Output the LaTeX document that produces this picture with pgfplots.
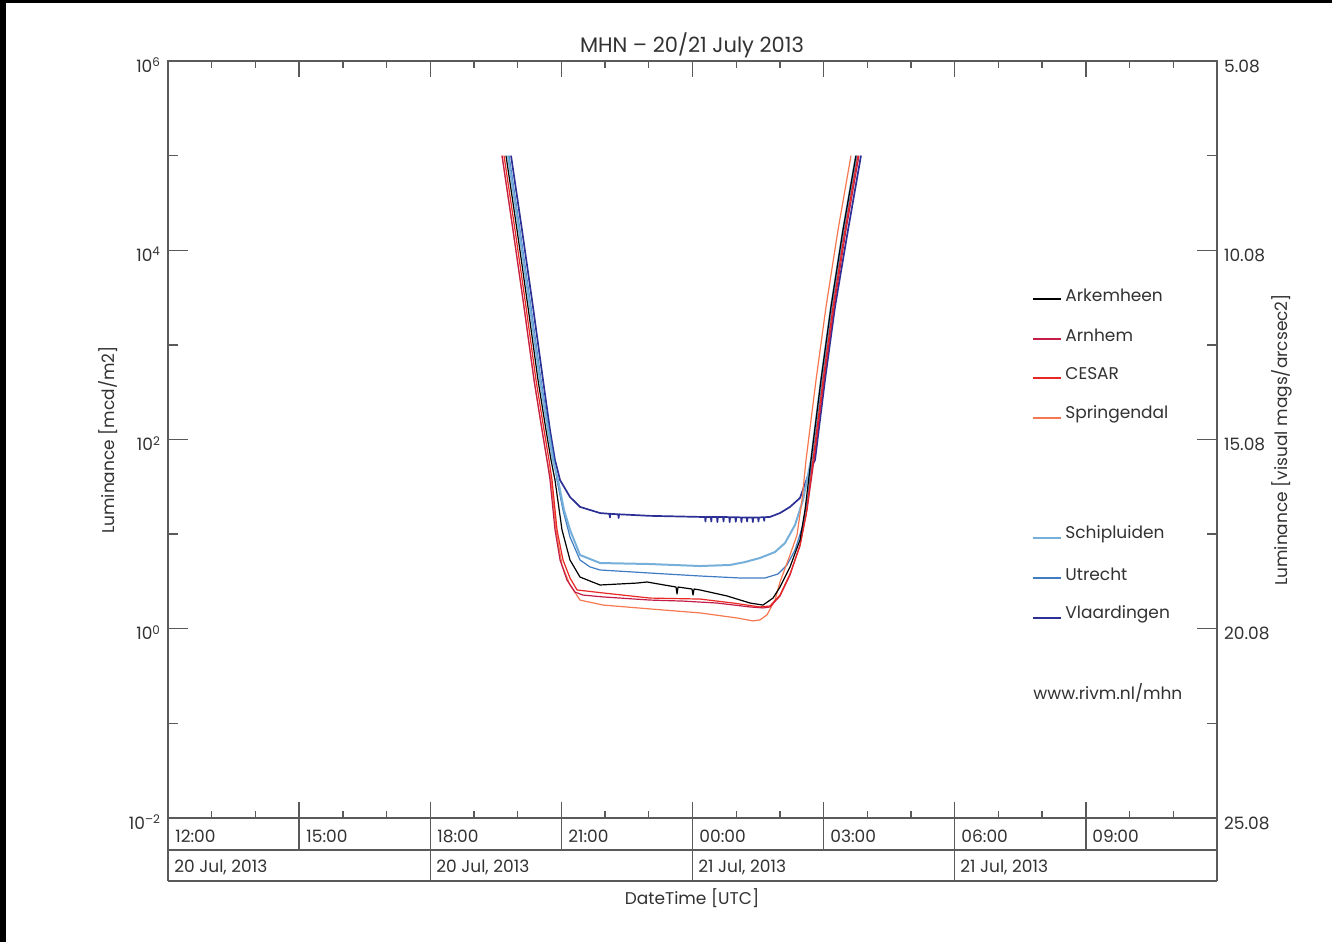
\documentclass[border=0pt]{standalone}
\usepackage{fontspec}
\setmainfont{Poppins}
\usepackage{pgfplots}
\pgfplotsset{compat=1.18}
\definecolor{cArk}{RGB}{0,0,0}
\definecolor{cArn}{RGB}{196,30,72}
\definecolor{cCes}{RGB}{232,40,36}
\definecolor{cSpr}{RGB}{246,120,80}
\definecolor{cSch}{RGB}{118,176,218}
\definecolor{cUtr}{RGB}{64,124,196}
\definecolor{cVla}{RGB}{44,48,150}
\definecolor{txt}{RGB}{50,50,50}
\definecolor{axc}{RGB}{90,90,90}
\newcommand{\fs}{\fontsize{8.5}{10}\selectfont}
\begin{document}
\begin{tikzpicture}
\path[use as bounding box, fill=white] (0,0) rectangle (666pt,471pt);
\fill[black] (0,0) rectangle (3pt,471pt);
\fill[black] (0,469.5pt) rectangle (666pt,471pt);

\begin{axis}[at={(84pt,62pt)}, anchor=south west, scale only axis,
  width=524.5pt, height=378.5pt,
  xmin=0, xmax=24, ymode=log, ymin=1e-2, ymax=1e6,
  xtick=\empty,
  ytick={1e-2,1,1e2,1e4,1e6}, minor ytick={1e-1,1e1,1e3,1e5},
  yticklabels={10\textsuperscript{\textendash2},10\textsuperscript{0},10\textsuperscript{2},10\textsuperscript{4},10\textsuperscript{6}},
  ytick pos=both, yticklabel pos=left,
  major tick length=10pt, minor tick length=5pt, tick align=inside,
  axis line style={axc, line width=0.7pt}, tick style={axc, line width=0.7pt},
  yticklabel style={font=\fs, text=txt, yshift=-2pt},
  ser/.style={line width=0.6pt, line join=round},
]
\addplot[ser, cVla, line width=0.85pt] coordinates {
(7.848,1e5) (8.099,16370) (8.351,2512) (8.580,425.6) (8.740,125.9) (8.854,60.7)
(8.969,37.3) (9.197,24.7) (9.426,19.4) (9.884,16.7) (10.100,16.4) (10.110,15.0) (10.120,16.4)
(10.300,16.2) (10.310,14.8) (10.320,16.2)
(11.028,15.6) (12.172,15.2)
(12.286,15.2) (12.296,13.6) (12.306,15.2)
(12.420,15.2) (12.430,13.6) (12.440,15.2)
(12.560,15.2) (12.570,13.4) (12.580,15.2)
(12.700,15.2) (12.710,13.6) (12.720,15.2)
(12.840,15.1) (12.850,13.4) (12.860,15.1)
(12.980,15.1) (12.990,13.5) (13.000,15.1)
(13.110,15.0) (13.120,13.4) (13.130,15.0)
(13.240,15.0) (13.250,13.6) (13.260,15.0)
(13.370,15.0) (13.380,13.4) (13.390,15.0)
(13.500,15.0) (13.510,13.6) (13.520,15.0)
(13.630,15.1) (13.640,13.8) (13.650,15.1)
(13.773,15.2) (14.002,16.7) (14.231,19.4) (14.459,24.1) (14.688,47.6)
(14.803,60.7) (15.031,425.6) (15.260,2512) (15.558,16370) (15.855,1e5)};
\addplot[ser, cUtr] coordinates {
(7.802,1e5) (8.053,16370) (8.305,2512) (8.534,425.6) (8.717,125.9) (8.831,60.7)
(8.900,37.3) (9.037,18.0) (9.197,9.33) (9.426,5.33) (9.655,4.50) (9.884,4.18)
(11.028,3.88) (12.172,3.61) (13.087,3.44) (13.659,3.44) (13.956,3.79) (14.162,4.72)
(14.345,6.79) (14.528,12.5) (14.643,25.9) (14.734,60.7) (14.963,425.6) (15.191,2512)
(15.466,16370) (15.763,1e5)};
\addplot[ser, cSch, line width=1pt] coordinates {
(7.779,1e5) (8.031,16370) (8.282,2512) (8.511,425.6) (8.694,125.9) (8.808,60.7)
(8.923,37.3) (9.060,18.0) (9.197,11.1) (9.426,6.02) (9.884,4.95) (11.028,4.83)
(12.172,4.60) (12.858,4.72) (13.201,5.07) (13.544,5.60) (13.887,6.47) (14.116,8.05)
(14.345,12.5) (14.528,22.9) (14.711,60.7) (14.940,425.6) (15.168,2512) (15.443,16370)
(15.740,1e5)};
\addplot[ser, cSpr] coordinates {
(7.642,1e5) (7.893,16370) (8.145,2512) (8.374,425.6) (8.557,125.9) (8.671,60.7)
(8.763,37.3) (8.877,11.1) (9.014,4.72) (9.197,2.90) (9.426,2.01) (9.952,1.78)
(11.028,1.62) (12.172,1.47) (13.019,1.30) (13.384,1.21) (13.544,1.24) (13.704,1.40)
(13.887,2.01) (14.002,3.12) (14.231,6.02) (14.391,9.80) (14.505,22.9) (14.597,60.7)
(14.826,425.6) (15.054,2512) (15.329,16370) (15.626,1e5)};
\addplot[ser, cArn] coordinates {
(7.642,1e5) (7.893,16370) (8.145,2512) (8.374,425.6) (8.557,125.9) (8.671,60.7)
(8.740,37.3) (8.854,11.1) (8.969,5.33) (9.128,3.27) (9.312,2.44) (9.495,2.27)
(9.952,2.17) (11.028,2.01) (11.783,1.96) (12.561,1.87) (13.316,1.70) (13.613,1.66)
(13.773,1.70) (14.002,2.22) (14.231,3.70) (14.459,7.67) (14.620,18.0) (14.780,60.7)
(15.008,425.6) (15.237,2512) (15.512,16370) (15.809,1e5)};
\addplot[ser, cCes] coordinates {
(7.687,1e5) (7.939,16370) (8.191,2512) (8.419,425.6) (8.603,125.9) (8.717,60.7)
(8.786,37.3) (8.900,11.1) (9.037,5.33) (9.197,3.44) (9.358,2.57) (9.952,2.39)
(11.028,2.11) (12.172,2.06) (12.927,1.87) (13.544,1.70) (13.773,1.74) (14.002,2.27)
(14.231,3.79) (14.459,7.50) (14.597,15.9) (14.757,60.7) (14.986,425.6) (15.214,2512)
(15.489,16370) (15.786,1e5)};
\addplot[ser, cArk] coordinates {
(7.733,1e5) (7.985,16370) (8.236,2512) (8.465,425.6) (8.648,125.9) (8.763,60.7)
(8.854,37.3) (9.014,11.1) (9.197,5.33) (9.426,3.52) (9.884,2.90) (10.730,3.04)
(10.958,3.12) (11.623,2.76) (11.646,2.33) (11.669,2.76) (11.989,2.63) (12.012,2.27)
(12.035,2.63) (12.172,2.57) (12.790,2.22) (13.316,1.87) (13.613,1.78) (13.842,2.11)
(14.002,2.76) (14.231,4.50) (14.459,8.67) (14.574,18.0) (14.711,60.7) (14.940,425.6)
(15.168,2512) (15.443,16370) (15.740,1e5)};
\end{axis}

\begin{axis}[at={(84pt,62pt)}, anchor=south west, scale only axis,
  width=524.5pt, height=378.5pt,
  xmin=0, xmax=24, ymin=-2, ymax=6,
  xtick={0,3,...,24}, minor x tick num=2, xtick pos=both,
  xticklabel style={opacity=0},
  major tick length=8pt, minor tick length=3.5pt, tick align=inside,
  ytick={-2,0,2,4,6}, yticklabels={25.08,20.08,15.08,10.08,5.08},
  yticklabel pos=right, y tick style={draw=none},
  axis line style={axc, line width=0.7pt}, tick style={axc, line width=0.7pt},
  yticklabel style={font=\fs, text=txt, yshift=-2.5pt},
]
\end{axis}

\begin{scope}[x=0.5pt, y=-0.5pt, shift={(0pt,471pt)}]
\draw[axc, line width=0.7pt] (168,850) -- (1217,850);
\draw[axc, line width=0.7pt] (168,881) -- (1217,881);
\draw[axc, line width=0.7pt] (168,818) -- (168,881);
\draw[axc, line width=0.7pt] (1217,818) -- (1217,881);
\foreach \xx in {299.1,430.25,561.4,692.5,823.6,954.75,1085.9}
  \draw[axc, line width=0.7pt] (\xx,818) -- (\xx,850);
\foreach \xx in {430.25,692.5,954.75}
  \draw[axc, line width=0.7pt] (\xx,850) -- (\xx,881);
\begin{scope}[every node/.style={font=\fs, text=txt, inner sep=0pt, anchor=west}]
\node at (175,836) {12:00};
\node at (306,836) {15:00};
\node at (437,836) {18:00};
\node at (568,836) {21:00};
\node at (699,836) {00:00};
\node at (830,836) {03:00};
\node at (961,836) {06:00};
\node at (1092,836) {09:00};
\node at (174,867) {20 Jul, 2013};
\node at (436,867) {20 Jul, 2013};
\node at (698,867) {21 Jul, 2013};
\node at (960,867) {21 Jul, 2013};
\node at (1065,295) {Arkemheen};
\node at (1065,335) {Arnhem};
\node at (1065,374) {CESAR};
\node at (1065,414) {Springendal};
\node at (1065,534) {Schipluiden};
\node at (1065,574) {Utrecht};
\node at (1065,614) {Vlaardingen};
\node at (1033,693) {www.rivm.nl/mhn};
\end{scope}
\draw[cArk, line width=0.7pt] (1033,299) -- (1061,299);
\draw[cArn, line width=0.7pt] (1033,339) -- (1061,339);
\draw[cCes, line width=0.7pt] (1033,378) -- (1061,378);
\draw[cSpr, line width=0.7pt] (1033,418) -- (1061,418);
\draw[cSch, line width=0.7pt] (1033,538) -- (1061,538);
\draw[cUtr, line width=0.7pt] (1033,578) -- (1061,578);
\draw[cVla, line width=0.7pt] (1033,618) -- (1061,618);
\node[font=\fontsize{10.5}{12}\selectfont, text=txt] at (692,45) {MHN \textendash{} 20/21 July 2013};
\node[font=\fs, text=txt] at (692,898) {DateTime [UTC]};
\node[font=\fs, text=txt, rotate=90] at (108,440) {Luminance [mcd/m2]};
\node[font=\fs, text=txt, rotate=90] at (1282,440) {Luminance [visual mags/arcsec2]};
\end{scope}
\end{tikzpicture}
\end{document}
